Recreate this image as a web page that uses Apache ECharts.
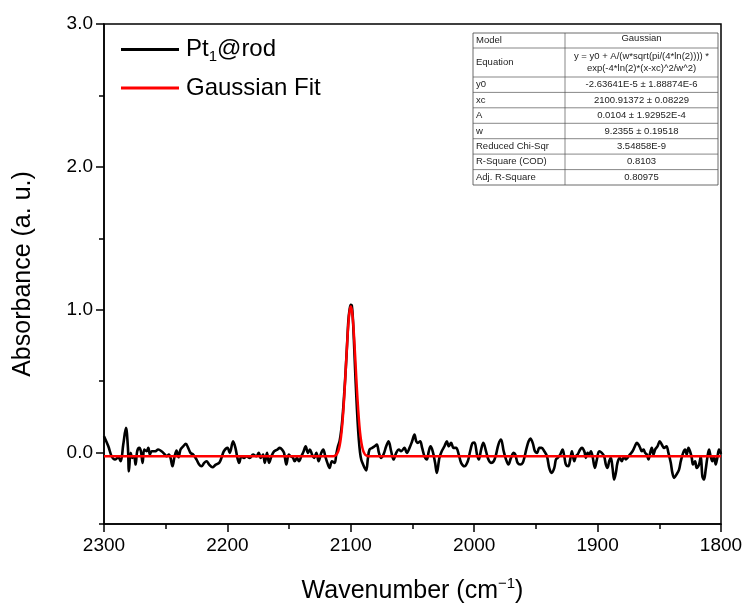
<!DOCTYPE html>
<html><head><meta charset="utf-8">
<script src="https://cdn.jsdelivr.net/npm/echarts@6/dist/echarts.min.js"></script>
<style>html,body{margin:0;padding:0;background:#fff}#c{width:750px;height:607px}</style>
</head><body><div id="c"></div>
<script>
// Measured spectrum (Pt1@rod)
const wavenumber = [2300,2296.5,2293.8,2291.1,2288.4,2286.5,2284.4,2282.2,2280.6,2279.8,2278.4,2277.1,2275.7,2274.4,2273.1,2271.4,2270.1,2268.7,2267.4,2265.5,2264.1,2262.8,2261.4,2258.7,2256.1,2253.4,2250.6,2249.3,2247.4,2246.1,2244.5,2242.8,2241.2,2239.6,2238.0,2235.8,2233.7,2231.8,2229.9,2227.7,2225.0,2222.9,2221.0,2218.8,2216.9,2214.8,2212.1,2209.4,2206.7,2204.8,2202.9,
2199.9,2198.1,2195.4,2193.5,2191.9,2190.5,2188.6,2186.5,2184.6,2181.9,2179.2,2176.5,2174.6,2173.0,2171.1,2169.7,2167.9,2166.2,2164.3,2162.2,2159.5,2157.6,2155.7,2154.1,2152.2,2150.3,2148.7,2146.8,2145.5,2143.6,2142.0,2140.1,2138.2,2136.6,2134.7,2133.1,2131.4,2129.8,2127.9,2126.1,2123.9,2122.3,2120.7,2119.0,2117.2,2115.3,2113.1,2111.8,2110.4,2109.1,2107.7,2106.4,2105.2,2104.0,2103.0,2102.0,2101.0,2100.0,2099.2,2098.4,2097.5,2096.5,2095.5,2094.5,2093.5,2092.5,2091.5,2090.2,2088.8,2087.5,2086.1,2084.8,
2082.6,2080.7,2078.9,2077.2,2075.4,2073.5,2071.3,2069.4,2067.3,2065.4,2063.2,2061.1,2059.2,2056.5,2054.6,2052.4,2050.3,2048.4,2047.0,2045.7,2043.8,2042.2,2040.3,2038.4,2036.8,2035.4,2033.6,2031.7,2030.3,2028.2,2026.3,2024.1,2022.2,2020.6,2018.7,2016.8,2014.7,2012.5,2010.6,2007.9,2005.2,2003.3,2001.2,1999.8,
1997.7,1996.3,1994.4,1992.6,1990.4,1988.5,1986.4,1984.2,1982.3,1980.4,1978.3,1976.1,1974.2,1972.3,1970.2,1968.0,1966.7,1964.8,1962.6,1960.7,1959.4,1957.5,1955.9,1954.5,1952.6,1950.8,1949.1,1947.2,1945.4,1943.2,1941.0,1939.2,1937.3,1935.1,1933.8,1932.4,1930.3,1928.4,1927.0,1925.7,1923.8,1922.2,1920.8,1918.9,1917.6,1916.2,1914.1,1912.7,1910.8,1909.5,1908.1,1906.8,1905.4,1904.1,1902.2,1900.6,1898.7,
1896.6,1894.7,1893.3,1892.0,1890.6,1889.3,1887.9,1886.6,1885.2,1883.9,1882.0,1880.4,1878.5,1877.1,1875.8,1873.9,1871.7,1869.8,1868.2,1866.9,1865.5,1864.2,1862.8,1861.5,1860.1,1858.8,1857.4,1856.1,1854.7,1853.4,1851.5,1849.6,1848.0,1846.1,1844.2,1842.6,1840.7,1839.4,1838.0,1836.1,1834.0,1832.6,1830.7,1829.1,1827.8,1826.4,1825.1,1823.7,1822.7,1821.0,1819.7,1817.8,1816.4,1815.1,1813.8,1812.4,1811.1,1809.7,1808.4,1807.0,1805.7,1804.3,1803.0,1801.6,1800];
const absorbance = [0.114,0.044,-0.026,-0.049,-0.033,-0.061,0.056,0.173,0.033,-0.131,-0.002,-0.037,-0.026,-0.084,0.009,0.033,0.009,-0.072,0.021,0.009,0.033,-0.014,0.009,0.009,0.021,0.009,-0.014,-0.026,-0.014,-0.037,-0.096,-0.026,0.014,-0.033,0.021,0.044,0.061,0.033,-0.002,-0.014,-0.049,-0.084,-0.096,-0.072,-0.061,-0.084,-0.103,-0.084,-0.072,-0.037,0.009,
0.033,-0.002,0.079,0.033,-0.037,-0.072,-0.026,-0.037,-0.026,-0.037,-0.014,-0.026,-0.002,-0.037,-0.014,-0.072,-0.002,-0.072,-0.026,0.009,0.021,0.033,0.021,-0.002,-0.084,-0.014,-0.026,-0.037,-0.061,-0.037,-0.061,-0.026,0.009,0.044,-0.002,0.021,-0.014,-0.037,-0.002,-0.061,-0.002,0.021,-0.026,-0.072,-0.107,-0.061,-0.072,-0.014,0.044,0.079,0.16,0.28,0.43,0.60,0.76,0.92,1.00,1.035,1.03,0.95,0.79,0.58,0.39,0.22,0.09,0.0,-0.05,-0.08,-0.107,-0.125,-0.037,0.021,
0.033,0.044,0.056,-0.002,-0.037,-0.014,0.044,0.079,0.009,-0.049,-0.002,0.021,0.009,0.033,-0.002,0.033,0.079,0.126,0.079,0.068,0.079,0.033,-0.026,-0.049,0.009,0.044,0.009,-0.072,-0.142,-0.037,0.009,0.044,0.079,0.044,0.068,0.033,0.033,-0.014,-0.072,-0.096,-0.061,0.009,0.068,0.07,
-0.014,-0.049,0.021,0.068,0.009,-0.049,-0.072,-0.061,-0.014,0.056,0.091,0.009,-0.049,-0.084,-0.037,-0.002,-0.014,-0.072,-0.084,-0.072,-0.037,0.033,0.079,0.098,0.068,0.009,-0.002,0.033,0.033,0.009,-0.026,-0.107,-0.142,-0.107,-0.049,-0.037,-0.014,0.021,-0.026,-0.084,-0.096,-0.049,0.009,-0.061,-0.026,-0.014,0.021,0.033,0.009,-0.037,-0.002,-0.014,0.009,-0.026,-0.107,-0.049,0.009,
-0.002,-0.026,-0.084,-0.107,-0.061,-0.037,-0.107,-0.189,-0.142,-0.072,-0.037,-0.061,-0.026,-0.049,-0.037,-0.014,0.009,0.044,0.068,0.056,0.033,0.009,0.021,-0.002,-0.014,-0.049,-0.002,0.033,-0.014,0.021,0.044,0.079,0.056,0.033,0.044,-0.002,-0.072,-0.142,-0.177,-0.154,-0.119,-0.061,-0.002,0.021,-0.014,0.033,0.009,-0.037,-0.084,-0.061,-0.107,-0.084,-0.026,-0.166,-0.189,-0.119,-0.037,0.021,-0.026,-0.061,-0.026,-0.084,-0.037,0.021,-0.01];

// Gaussian fit curve
const fitWavenumber = [2300,2116,2114,2113,2112,2111,2110,2109,2108,2107,2106,2105,2104,2103,2102,2101,2100,2099,2098,2097,2096,2095,2094,2093,2092,2091,2090,2089,2088,2086,1800];
const fitAbsorbance = [-0.026,-0.026,-0.025,-0.023,-0.017,-0.006,0.014,0.049,0.104,0.186,0.299,0.438,0.597,0.756,0.895,0.989,1.023,0.989,0.895,0.756,0.597,0.438,0.299,0.186,0.104,0.049,0.014,-0.006,-0.017,-0.025,-0.026];

const yTickLabels = [0, 1, 2, 3];
const yMinorTicks = [-0.5, 0.5, 1.5, 2.5];

const tableLabels = ['Model','Equation','y0','xc','A','w','Reduced Chi-Sqr','R-Square (COD)','Adj. R-Square'];
const tableValues = ['Gaussian','y = y0 + A/(w*sqrt(pi/(4*ln(2)))) *\nexp(-4*ln(2)*(x-xc)^2/w^2)','-2.63641E-5 ± 1.88874E-6','2100.91372 ± 0.08229','0.0104 ± 1.92952E-4','9.2355 ± 0.19518','3.54858E-9','0.8103','0.80975'];

const FONT = 'Liberation Sans, Arial, Helvetica, sans-serif';
const chart = echarts.init(document.getElementById('c'), null, {renderer: 'canvas'});

// Table graphic
const tL = 473, tR = 718, tC = 565;
const rowY = [33, 48, 77, 92.4, 107.8, 123.3, 138.7, 154.1, 169.6, 185];
const g = [];
g.push({type:'rect', shape:{x:tL, y:rowY[0], width:tR-tL, height:rowY[rowY.length-1]-rowY[0]}, style:{fill:'#fff', stroke:'#444', lineWidth:0.8}, z:10});
for (let i = 1; i < rowY.length-1; i++) {
  g.push({type:'line', shape:{x1:tL, y1:rowY[i], x2:tR, y2:rowY[i]}, style:{stroke:'#555', lineWidth:0.7}, z:11});
}
g.push({type:'line', shape:{x1:tC, y1:rowY[0], x2:tC, y2:rowY[rowY.length-1]}, style:{stroke:'#555', lineWidth:0.7}, z:11});
for (let i = 0; i < tableLabels.length; i++) {
  const cy = (rowY[i] + rowY[i+1]) / 2;
  g.push({type:'text', x: tL + 3, y: cy, style:{text: tableLabels[i], font: '9.5px ' + FONT, fill:'#222', textAlign:'left', textVerticalAlign:'middle'}, z:12});
  g.push({type:'text', x: (tC + tR)/2, y: i === 0 ? cy - 2 : cy, style:{text: tableValues[i], font: '9.5px ' + FONT, fill:'#222', textAlign:'center', textVerticalAlign:'middle', lineHeight: 12}, z:12});
}

const blackData = wavenumber.map((w, i) => [w, absorbance[i]]);
const fitData = fitWavenumber.map((w, i) => [w, fitAbsorbance[i]]);

chart.setOption({
  animation: false,
  backgroundColor: '#fff',
  textStyle: {fontFamily: FONT},
  grid: {left: 104, right: 29, top: 24, bottom: 83, outerBoundsMode: 'none', containLabel: false, show: true, borderColor: '#000', borderWidth: 1.5, backgroundColor: 'transparent'},
  legend: {
    orient: 'vertical', left: 116, top: 30, itemWidth: 58, itemHeight: 3, itemGap: 12,
    icon: 'rect',
    data: [{name: 'Pt1@rod'}, {name: 'Gaussian Fit'}],
    formatter: function (name) {
      if (name === 'Pt1@rod') return '{a|Pt}{s|1}{a|@rod}';
      return '{a|' + name + '}';
    },
    textStyle: {
      color: '#000', fontFamily: FONT, fontSize: 24, padding: [0,0,0,2],
      rich: {
        a: {fontSize: 24, fontFamily: FONT, color: '#000', lineHeight: 24},
        s: {fontSize: 15, fontFamily: FONT, color: '#000', lineHeight: 24, padding: [14, 0, 0, 0]}
      }
    }
  },
  xAxis: {
    type: 'value', min: 1800, max: 2300, interval: 100, inverse: true,
    name: '{a|Wavenumber (cm}{s|−1}{a|)}', nameLocation: 'middle', nameGap: 52,
    nameTextStyle: {
      rich: {
        a: {fontSize: 25, fontFamily: FONT, color: '#000', lineHeight: 30},
        s: {fontSize: 15, fontFamily: FONT, color: '#000', lineHeight: 30, padding: [0, 0, 14, 0]}
      }
    },
    axisLine: {show: true, onZero: false, lineStyle: {color: '#000', width: 1.5}},
    axisTick: {show: true, inside: false, length: 8, lineStyle: {color: '#000', width: 1.5}},
    minorTick: {show: true, splitNumber: 2, length: 5, lineStyle: {color: '#000', width: 1.5}},
    axisLabel: {color: '#000', fontSize: 19, fontFamily: FONT, margin: 12, formatter: v => String(v)},
    splitLine: {show: false}
  },
  yAxis: [{
    type: 'value', min: -0.5, max: 3.0,
    name: 'Absorbance (a. u.)', nameLocation: 'middle', nameGap: 68,
    nameTextStyle: {fontSize: 25, fontFamily: FONT, color: '#000'},
    axisLine: {show: true, onZero: false, lineStyle: {color: '#000', width: 1.5}},
    axisTick: {show: true, inside: false, length: 8, customValues: yTickLabels, lineStyle: {color: '#000', width: 1.5}},
    axisLabel: {color: '#000', fontSize: 19, fontFamily: FONT, margin: 11, customValues: yTickLabels, formatter: v => v.toFixed(1)},
    splitLine: {show: false}
  }, {
    type: 'value', min: -0.5, max: 3.0, position: 'left',
    axisLine: {show: false},
    axisTick: {show: true, inside: false, length: 5, customValues: yMinorTicks, lineStyle: {color: '#000', width: 1.5}},
    axisLabel: {show: false},
    splitLine: {show: false}
  }],
  series: [{
    name: 'Pt1@rod', type: 'line', data: blackData, showSymbol: false, symbol: 'none', smooth: 0.35,
    lineStyle: {color: '#000', width: 2.6}, itemStyle: {color: '#000'}, z: 2
  }, {
    name: 'Gaussian Fit', type: 'line', data: fitData, showSymbol: false, symbol: 'none', smooth: 0.4,
    lineStyle: {color: '#ff0000', width: 2.5}, itemStyle: {color: '#ff0000'}, z: 3
  }],
  graphic: g
});
</script>
</body></html>
